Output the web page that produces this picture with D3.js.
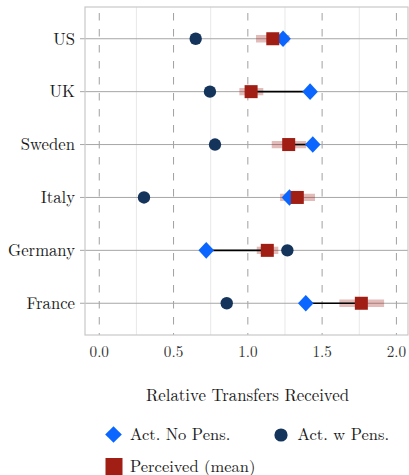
<!DOCTYPE html>
<html>
<head>
<meta charset="utf-8">
<script src="https://cdn.jsdelivr.net/npm/d3@7"></script>
<style>
  html, body { margin: 0; padding: 0; background: #fff; }
  svg { display: block; }
</style>
</head>
<body>
<svg id="chart" width="409" height="475"></svg>
<script>
// Countries, top to bottom
const countries = ["US", "UK", "Sweden", "Italy", "Germany", "France"];
// Actual relative transfers, excluding pensions
const actNoPens = [1.237, 1.419, 1.437, 1.28, 0.72, 1.39];
// Actual relative transfers, including pensions
const actWPens = [0.649, 0.745, 0.779, 0.301, 1.266, 0.858];
// Perceived transfers: mean with lower / upper interval
const perceived = [1.168, 1.022, 1.275, 1.333, 1.131, 1.764];
const percLo = [1.055, 0.943, 1.161, 1.217, 1.06, 1.616];
const percHi = [1.28, 1.104, 1.392, 1.452, 1.205, 1.917];
const xTicks = [0, 0.5, 1, 1.5, 2];
const xMinor = [0.25, 0.75, 1.25, 1.75];

const rows = countries.map((c, i) => ({
  c, np: actNoPens[i], wp: actWPens[i], pm: perceived[i], lo: percLo[i], hi: percHi[i]
}));

const FONT = '"Latin Modern Roman", "CMU Serif", "Liberation Serif", serif';
const svg = d3.select("#chart");
const m = { left: 85, right: 408, top: 7, bottom: 335 };

const x = d3.scaleLinear().domain([-0.096, 2.078]).range([m.left, m.right]);
const y = d3.scalePoint().domain(countries).range([m.top, m.bottom]).padding(0.6);

const g = svg.append("g");

// minor grid
g.selectAll(".minor").data(xMinor).join("line")
  .attr("x1", d => x(d)).attr("x2", d => x(d))
  .attr("y1", m.top).attr("y2", m.bottom)
  .attr("stroke", "#e8e8e8").attr("stroke-width", 1);

// dashed reference lines at major ticks
g.selectAll(".major").data(xTicks).join("line")
  .attr("x1", d => x(d)).attr("x2", d => x(d))
  .attr("y1", m.top).attr("y2", m.bottom)
  .attr("stroke", "#a0a0a0").attr("stroke-width", 1)
  .attr("stroke-dasharray", "7.5,8.5").attr("stroke-dashoffset", 10);

// row lines with ticks into the label area
g.selectAll(".row").data(countries).join("line")
  .attr("x1", m.left - 5).attr("x2", m.right)
  .attr("y1", d => y(d)).attr("y2", d => y(d))
  .attr("stroke", "#a6a6a6").attr("stroke-width", 1);

// panel border
g.append("rect")
  .attr("x", m.left).attr("y", m.top)
  .attr("width", m.right - m.left).attr("height", m.bottom - m.top)
  .attr("fill", "none").attr("stroke", "#c8c8c8").attr("stroke-width", 1.2);

// y labels
g.selectAll(".ylab").data(countries).join("text")
  .attr("x", m.left - 10).attr("y", d => y(d)).attr("dy", "0.35em")
  .attr("text-anchor", "end").attr("font-family", FONT).attr("font-size", 16.7)
  .attr("fill", "#1a1a1a").text(d => d);

// x tick labels
g.selectAll(".xlab").data(xTicks).join("text")
  .attr("x", d => x(d)).attr("y", 357)
  .attr("text-anchor", "middle").attr("font-family", FONT).attr("font-size", 15.2)
  .attr("fill", "#333").text(d => d3.format(".1f")(d));

// axis title
g.append("text").attr("x", 247.5).attr("y", 401)
  .attr("text-anchor", "middle").attr("font-family", FONT).attr("font-size", 16.8)
  .attr("fill", "#1a1a1a").text("Relative Transfers Received");

// perceived interval bands
g.selectAll(".band").data(rows).join("line")
  .attr("x1", d => x(d.lo)).attr("x2", d => x(d.hi))
  .attr("y1", d => y(d.c)).attr("y2", d => y(d.c))
  .attr("stroke", "#a31f14").attr("stroke-opacity", 0.3).attr("stroke-width", 7.3);

// gap between actual (no pensions) and perceived
g.selectAll(".gap").data(rows).join("line")
  .attr("x1", d => x(d.np)).attr("x2", d => x(d.pm))
  .attr("y1", d => y(d.c)).attr("y2", d => y(d.c))
  .attr("stroke", "#000").attr("stroke-width", 1.6);

const circleR = 6.2, diamondW = 7.8, diamondH = 8.3, sq = 13;
const blue = "#0a66ff", navy = "#14345c", red = "#a01e14";

g.selectAll(".wp").data(rows).join("circle")
  .attr("cx", d => x(d.wp)).attr("cy", d => y(d.c)).attr("r", circleR).attr("fill", navy);

const diamond = (cx, cy, w, h) => `M${cx},${cy - h}L${cx + w},${cy}L${cx},${cy + h}L${cx - w},${cy}Z`;
g.selectAll(".np").data(rows).join("path")
  .attr("d", d => diamond(x(d.np), y(d.c), diamondW, diamondH)).attr("fill", blue);

g.selectAll(".pm").data(rows).join("rect")
  .attr("x", d => x(d.pm) - sq / 2).attr("y", d => y(d.c) - sq / 2)
  .attr("width", sq).attr("height", sq).attr("fill", red);

// legend
const lg = svg.append("g").attr("font-family", FONT).attr("font-size", 16.5).attr("fill", "#1a1a1a");
lg.append("path").attr("d", diamond(113.5, 434.5, 8.3, 8.3)).attr("fill", blue);
lg.append("text").attr("x", 130).attr("y", 440).text("Act. No Pens.");
lg.append("circle").attr("cx", 281).attr("cy", 435).attr("r", 6.6).attr("fill", navy);
lg.append("text").attr("x", 297.5).attr("y", 440).text("Act. w Pens.");
lg.append("rect").attr("x", 105.5).attr("y", 458).attr("width", 17).attr("height", 17).attr("fill", red);
lg.append("text").attr("x", 130).attr("y", 471.5).text("Perceived (mean)");
</script>
</body>
</html>
